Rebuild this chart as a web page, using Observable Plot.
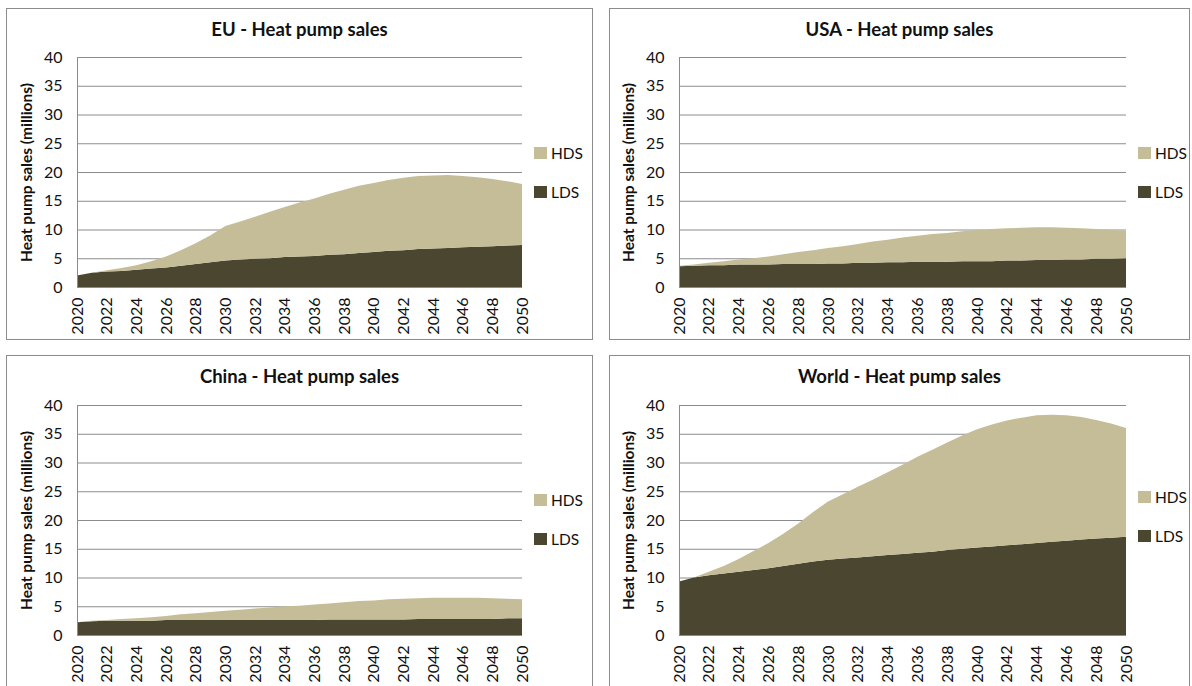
<!DOCTYPE html>
<html>
<head>
<meta charset="utf-8">
<script src="https://cdn.jsdelivr.net/npm/d3@7"></script>
<script src="https://cdn.jsdelivr.net/npm/@observablehq/plot@0.6"></script>
<style>
  html, body { margin: 0; padding: 0; background: #fff; }
  #root { position: relative; width: 1192px; height: 686px; overflow: hidden; font-family: Lato, "Open Sans", sans-serif; color: #111; }
  .panel { position: absolute; border: 1px solid #8c8c8c; box-sizing: border-box; overflow: hidden; background: #fff; }
  .panel svg { position: absolute; left: 0; top: 0; }
  .title { position: absolute; left: 0; right: 0; text-align: center; font-weight: bold; font-size: 18.5px; line-height: 22px; }
  .legend { position: absolute; font-size: 15.5px; line-height: 14px; }
  .legend .row { position: absolute; left: 0; white-space: nowrap; display: flex; align-items: center; }
  .legend .sw { display: inline-block; width: 13px; height: 12px; margin-right: 4px; }
</style>
</head>
<body>
<div id="root"></div>
<script>
// ---- data ----
const years = d3.range(2020, 2051);
const seriesNames = ["LDS", "HDS"];
const yTicks = [0, 5, 10, 15, 20, 25, 30, 35, 40];
const xTicks = d3.range(2020, 2051, 2);
const yLabel = "Heat pump sales (millions)";

const euLDS   = [2.0,2.5,2.7,2.8,3.0,3.2,3.4,3.7,4.0,4.3,4.6,4.8,4.9,5.0,5.2,5.3,5.4,5.6,5.7,5.9,6.1,6.3,6.4,6.6,6.7,6.8,6.9,7.0,7.1,7.2,7.3];
const euHDS   = [0.0,0.0,0.2,0.5,0.8,1.3,1.9,2.7,3.6,4.7,6.0,6.6,7.3,8.1,8.7,9.4,10.0,10.6,11.2,11.7,12.0,12.3,12.6,12.7,12.7,12.7,12.4,12.1,11.7,11.2,10.6];

const usaLDS  = [3.6,3.7,3.8,3.8,3.9,3.9,3.9,4.0,4.0,4.0,4.1,4.1,4.2,4.2,4.3,4.3,4.4,4.4,4.4,4.5,4.5,4.5,4.6,4.6,4.7,4.7,4.8,4.8,4.9,4.9,5.0];
const usaHDS  = [0.1,0.2,0.4,0.7,0.9,1.1,1.4,1.7,2.1,2.4,2.7,3.0,3.3,3.7,3.9,4.3,4.5,4.8,5.0,5.2,5.4,5.6,5.6,5.7,5.7,5.7,5.5,5.4,5.2,5.0,4.8];

const chinaLDS = [2.2,2.4,2.5,2.5,2.5,2.5,2.6,2.6,2.6,2.6,2.6,2.6,2.6,2.6,2.6,2.6,2.6,2.7,2.7,2.7,2.7,2.7,2.7,2.8,2.8,2.8,2.8,2.8,2.8,2.9,2.9];
const chinaHDS = [0.0,0.1,0.1,0.3,0.4,0.6,0.7,1.0,1.2,1.4,1.6,1.8,2.0,2.2,2.4,2.5,2.7,2.8,3.0,3.2,3.3,3.5,3.6,3.6,3.7,3.7,3.7,3.7,3.6,3.4,3.3];

const worldLDS = [9.3,10.0,10.4,10.7,11.0,11.3,11.6,12.0,12.4,12.8,13.1,13.3,13.5,13.7,13.9,14.1,14.3,14.5,14.8,15.0,15.2,15.4,15.6,15.8,16.0,16.2,16.4,16.6,16.8,16.9,17.1];
const worldHDS = [0.0,0.0,0.6,1.3,2.2,3.3,4.4,5.6,7.0,8.6,10.1,11.2,12.3,13.3,14.4,15.5,16.7,17.7,18.7,19.7,20.6,21.2,21.7,22.0,22.2,22.1,21.8,21.3,20.6,19.9,18.9];

const colors = { LDS: "#4b4630", HDS: "#c5bd98" };

// ---- layout ----
const panels = [
  { title: "EU - Heat pump sales",    lds: euLDS,    hds: euHDS,    left: 6,   top: 8,   w: 587, h: 332, ml: 70, mr: 70, mt: 48, legendTop: 89 },
  { title: "USA - Heat pump sales",   lds: usaLDS,   hds: usaHDS,   left: 609, top: 8,   w: 581, h: 332, ml: 69, mr: 63, mt: 48, legendTop: 89 },
  { title: "China - Heat pump sales", lds: chinaLDS, hds: chinaHDS, left: 6,   top: 355, w: 587, h: 340, ml: 70, mr: 70, mt: 49, legendTop: 88 },
  { title: "World - Heat pump sales", lds: worldLDS, hds: worldHDS, left: 609, top: 355, w: 581, h: 340, ml: 69, mr: 63, mt: 49, legendTop: 85 }
];
const plotHeight = 230;

const root = document.getElementById("root");
for (const p of panels) {
  const div = document.createElement("div");
  div.className = "panel";
  Object.assign(div.style, { left: p.left + "px", top: p.top + "px", width: p.w + "px", height: p.h + "px" });

  const data = [];
  years.forEach((yr, i) => {
    data.push({ year: yr, series: "LDS", value: p.lds[i] });
    data.push({ year: yr, series: "HDS", value: p.hds[i] });
  });

  const innerW = p.w - 2, innerH = p.h - 2;
  const chart = Plot.plot({
    width: innerW,
    height: innerH,
    marginLeft: p.ml,
    marginRight: p.mr,
    marginTop: p.mt,
    marginBottom: innerH - p.mt - plotHeight,
    x: { domain: [2020, 2050] },
    y: { domain: [0, 40] },
    color: { domain: seriesNames, range: seriesNames.map(s => colors[s]) },
    style: { fontFamily: "Lato, 'Open Sans', sans-serif", fontSize: "16px", color: "#111", background: "transparent", overflow: "visible" },
    marks: [
      Plot.gridY(yTicks, { stroke: "#8c8c8c", strokeOpacity: 1 }),
      Plot.areaY(data, { x: "year", y: "value", fill: "series", z: "series", order: seriesNames }),
      Plot.ruleX([2020], { stroke: "#8c8c8c", strokeOpacity: 1 }),
      Plot.axisY(yTicks, { tickSize: 0, tickPadding: 15, label: null }),
      Plot.axisX(xTicks, { tickSize: 0, tickPadding: 10, tickRotate: -90, tickFormat: d => String(d), label: null }),
      Plot.text([yLabel], { frameAnchor: "left", textAnchor: "middle", rotate: -90, dx: -50, fontWeight: "bold", fontSize: 15.5, fill: "#111" })
    ]
  });
  div.appendChild(chart);

  const t = document.createElement("div");
  t.className = "title";
  t.style.top = "9px";
  t.textContent = p.title;
  div.appendChild(t);

  const lg = document.createElement("div");
  lg.className = "legend";
  lg.style.left = (p.w - p.mr - 1 + 11) + "px";
  lg.style.top = (p.mt + p.legendTop) + "px";
  ["HDS", "LDS"].forEach((s, k) => {
    const row = document.createElement("div");
    row.className = "row";
    row.style.top = (k * 39) + "px";
    const sw = document.createElement("span");
    sw.className = "sw";
    sw.style.background = colors[s];
    const tx = document.createElement("span");
    tx.textContent = s;
    row.appendChild(sw); row.appendChild(tx);
    lg.appendChild(row);
  });
  div.appendChild(lg);

  root.appendChild(div);
}
</script>
</body>
</html>
